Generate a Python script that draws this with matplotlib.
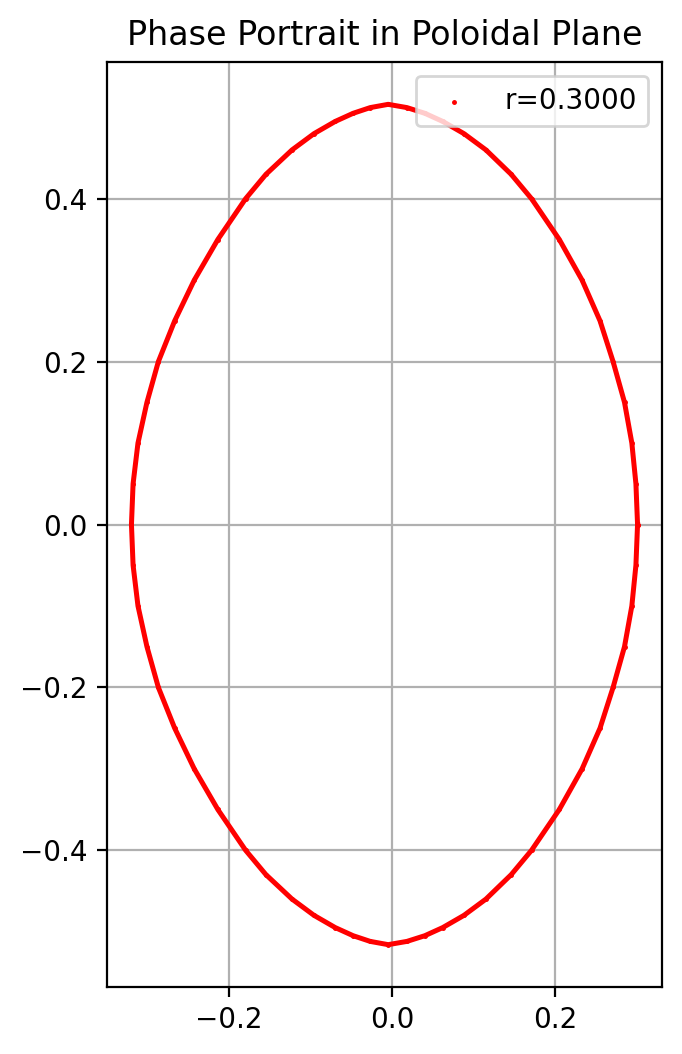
import matplotlib
matplotlib.use("Agg")
import matplotlib.pyplot as plt
import numpy as np

# Points (going counter-clockwise from the rightmost point)
x_pts = [0.301, 0.299, 0.294, 0.285, 0.271, 0.255, 0.233, 0.205, 0.171, 0.146, 0.115, 0.088, 0.062, 0.040, 0.018,
         -0.005,
         -0.027, -0.048, -0.070, -0.096, -0.123, -0.155, -0.180, -0.214, -0.243, -0.267, -0.287, -0.301, -0.312, -0.318,
         -0.320,
         -0.318, -0.312, -0.301, -0.287, -0.267, -0.243, -0.214, -0.180, -0.155, -0.123, -0.096, -0.070, -0.048, -0.027,
         -0.005,
         0.018, 0.040, 0.062, 0.088, 0.115, 0.146, 0.171, 0.205, 0.233, 0.255, 0.271, 0.285, 0.294, 0.299, 0.301]
y_pts = [0.000, 0.050, 0.100, 0.150, 0.200, 0.250, 0.300, 0.350, 0.400, 0.430, 0.460, 0.480, 0.495, 0.505, 0.512,
         0.516,
         0.512, 0.505, 0.495, 0.480, 0.460, 0.430, 0.400, 0.350, 0.300, 0.250, 0.200, 0.150, 0.100, 0.050,
         0.000,
         -0.050, -0.100, -0.150, -0.200, -0.250, -0.300, -0.350, -0.400, -0.430, -0.460, -0.480, -0.495, -0.505, -0.512,
         -0.516,
         -0.512, -0.505, -0.495, -0.480, -0.460, -0.430, -0.400, -0.350, -0.300, -0.250, -0.200, -0.150, -0.100, -0.050, 0.000]
label = "r=0.3000"
title = "Phase Portrait in Poloidal Plane"

fig = plt.figure(figsize=(6.82 / 2, 10.54 / 2), dpi=200)
ax = fig.add_axes([107 / 682, 1 - 987 / 1054, 555 / 682, 925 / 1054])
ax.plot(x_pts, y_pts, color="red", lw=1.8, solid_joinstyle="round", zorder=3)
ax.scatter(x_pts, y_pts, s=0.6, color="red", label=label, zorder=2)
ax.set_xlim(-0.350, 0.331)
ax.set_ylim(-0.568, 0.568)
ax.set_xticks([-0.2, 0.0, 0.2])
ax.set_yticks([-0.4, -0.2, 0.0, 0.2, 0.4])
ax.grid(True)
ax.set_axisbelow(True)
ax.set_title(title, fontsize=12)
ax.legend(loc="upper right")
fig.savefig("out.png", dpi=200)
